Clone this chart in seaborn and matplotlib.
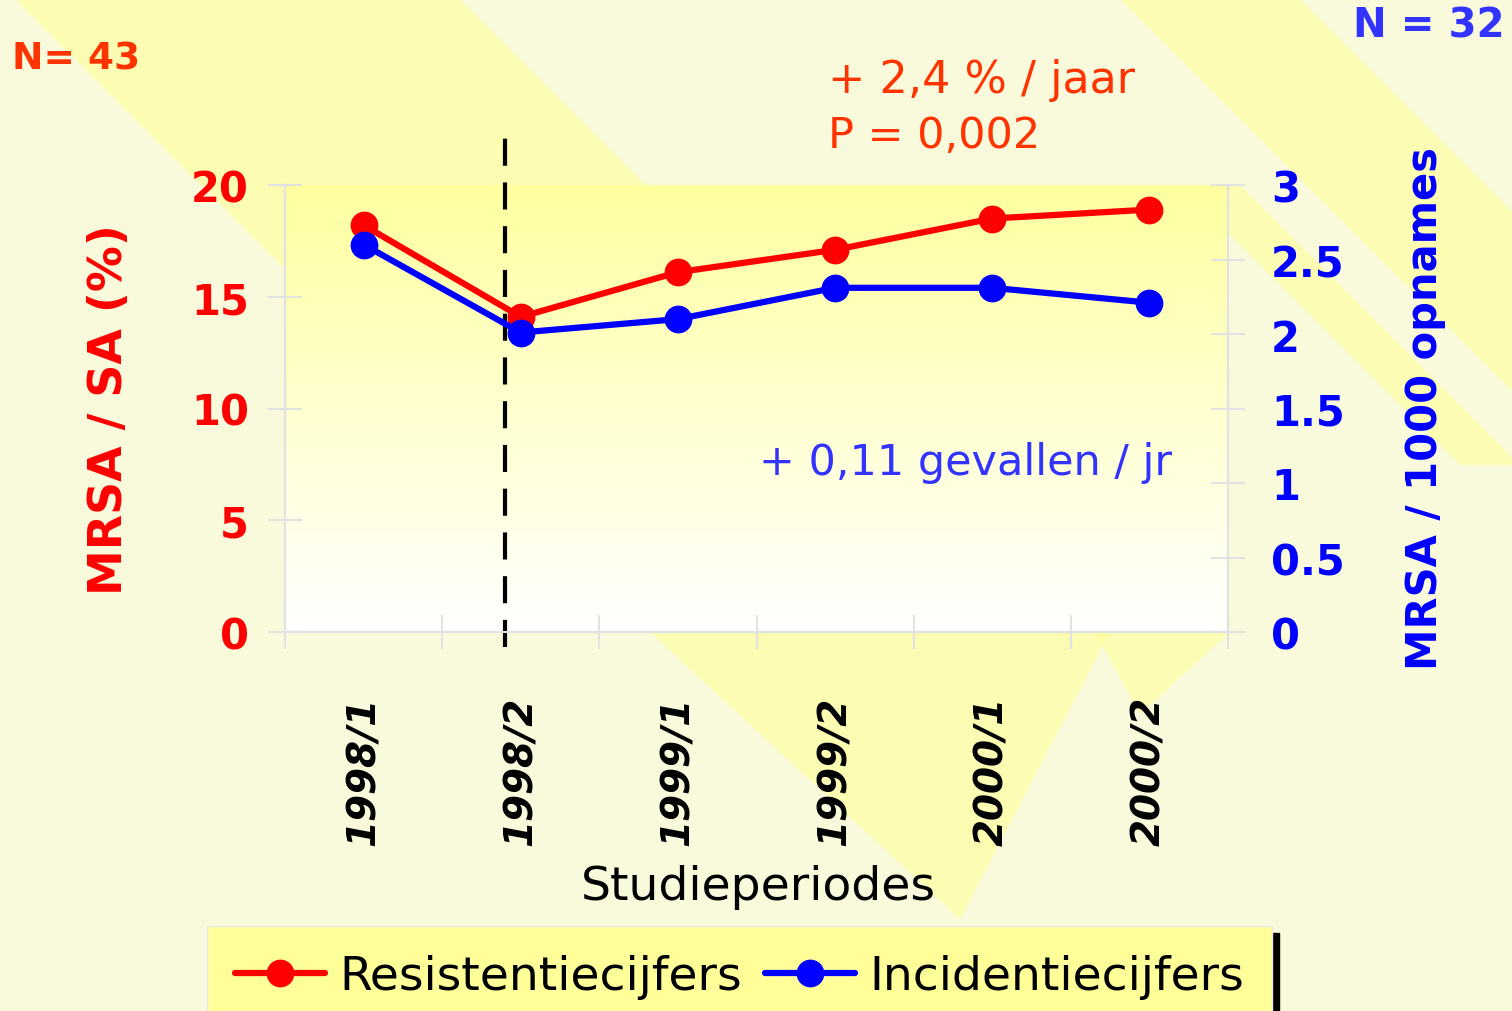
import numpy as np
import pandas as pd
import matplotlib
matplotlib.use("Agg")
import matplotlib.pyplot as plt
from matplotlib.patches import Polygon
from matplotlib.ticker import FixedLocator, NullFormatter
import seaborn as sns

# data
periods = ["1998/1", "1998/2", "1999/1", "1999/2", "2000/1", "2000/2"]
resistance = [18.2, 14.1, 16.1, 17.1, 18.5, 18.9]      # MRSA / SA (%)
incidence = [2.60, 2.01, 2.10, 2.31, 2.31, 2.21]       # MRSA / 1000 opnames
left_ticks = [0, 5, 10, 15, 20]
right_ticks = [0, 0.5, 1, 1.5, 2, 2.5, 3]
right_tick_labels = ["0", "0.5", "1", "1.5", "2", "2.5", "3"]

sns.set_theme(style="white")
plt.rcParams["font.family"] = ["DejaVu Sans"]

RED = "#FF0000"
BLUE = "#0000FF"
ORANGE = "#FF3300"
LBLUE = "#3333FF"
GRID = "#E2E2E2"

W, H = 1512, 1012
fig = plt.figure(figsize=(W / 100, H / 100), dpi=100)
fig.patch.set_facecolor("#F9F9DC")


def fx(px):
    return px / W


def fy(py):
    return 1 - py / H


# background decoration: pale yellow diagonal bands
bg = fig.add_axes([0, 0, 1, 1], zorder=-10)
bg.set_xlim(0, W)
bg.set_ylim(H, 0)
bg.axis("off")
bands = [
    [(15, 0), (460, 0), (1093, 633), (648, 633)],
    [(1120, 0), (1300, 0), (1700, 400), (1520, 400)],
    [(1180, 186), (1240, 186), (1520, 466), (1460, 466)],
    [(650, 633), (1110, 633), (960, 920)],
    [(1095, 633), (1230, 633), (1140, 715)],
]
for b in bands:
    bg.add_patch(Polygon(b, closed=True, facecolor="#FFFF99", edgecolor="none", alpha=0.6))

df = pd.DataFrame({
    "pos": range(len(periods)),
    "period": periods,
    "resistance": resistance,
    "incidence": incidence,
})

ax = fig.add_axes([fx(285), fy(633), fx(1228 - 285), (633 - 186) / H])
ax.set_facecolor("none")

# gradient inside the plot area
grad = np.linspace(0, 1, 256).reshape(-1, 1)
cmap = matplotlib.colors.LinearSegmentedColormap.from_list("yw", ["#FFFFFF", "#FFFFA0"])
ax.imshow(grad, extent=[-0.5, 5.5, 0, 20], origin="lower", aspect="auto",
          cmap=cmap, zorder=0)

sns.lineplot(data=df, x="pos", y="resistance", ax=ax, color=RED, marker="o",
             markersize=20, markeredgewidth=0, linewidth=4.5, zorder=3,
             label="Resistentiecijfers", legend=False)

ax2 = ax.twinx()
sns.lineplot(data=df, x="pos", y="incidence", ax=ax2, color=BLUE, marker="o",
             markersize=20, markeredgewidth=0, linewidth=4.5, zorder=3,
             label="Incidentiecijfers", legend=False)

ax.set_xlim(-0.5, 5.5)
ax.set_ylim(0, 20)
ax2.set_ylim(0, 3)

# dashed separator after the first period
ax2.axvline(0.9, ymin=-0.034, ymax=1.114, color="black", linewidth=3,
            linestyle=(0, (6.5, 4)), clip_on=False, zorder=2)

for a in (ax, ax2):
    for s in a.spines.values():
        s.set_color(GRID)
        s.set_linewidth(1.5)
    a.spines["top"].set_visible(False)
    a.set_xlabel("")
    a.set_ylabel("")

# x axis: ticks at the category boundaries, labels at the centres
ax.xaxis.set_major_locator(FixedLocator(np.arange(-0.5, 6, 1)))
ax.xaxis.set_major_formatter(NullFormatter())
ax.xaxis.set_minor_locator(FixedLocator(df["pos"].tolist()))
ax.set_xticklabels(periods, minor=True)
ax.tick_params(axis="x", which="major", direction="inout", length=24, width=1.5,
               color=GRID, bottom=True)
ax.tick_params(axis="x", which="minor", length=0, pad=46, bottom=True)
for t in ax.get_xticklabels(minor=True):
    t.set_rotation(90)
    t.set_fontsize(28)
    t.set_fontweight("bold")
    t.set_fontstyle("italic")
    t.set_color("black")
    t.set_va("top")
    t.set_ha("center")
ax2.tick_params(axis="x", which="both", length=0)

ax.set_yticks(left_ticks)
ax.set_yticklabels([str(v) for v in left_ticks])
ax.tick_params(axis="y", direction="inout", length=24, width=1.5, color=GRID,
               labelcolor=RED, labelsize=30, pad=14, left=True)
for t in ax.get_yticklabels():
    t.set_fontweight("bold")

ax2.set_yticks(right_ticks)
ax2.set_yticklabels(right_tick_labels)
ax2.tick_params(axis="y", direction="inout", length=24, width=1.5, color=GRID,
                labelcolor=BLUE, labelsize=30, pad=19, right=True)
for t in ax2.get_yticklabels():
    t.set_fontweight("bold")
    t.set_ha("left")

# axis titles
fig.text(fx(110), fy(410), "MRSA / SA (%)", rotation=90, color=RED, fontsize=33,
         fontweight="bold", ha="center", va="center")
fig.text(fx(1425), fy(408), "MRSA / 1000 opnames", rotation=90, color=BLUE,
         fontsize=30, fontweight="bold", ha="center", va="center")
fig.text(fx(758), fy(888), "Studieperiodes", color="black", fontsize=34,
         ha="center", va="center")

# annotations
fig.text(fx(828), fy(80), "+ 2,4 % / jaar", color=ORANGE, fontsize=32,
         ha="left", va="center")
fig.text(fx(828), fy(136), "P = 0,002", color=ORANGE, fontsize=31,
         ha="left", va="center")
fig.text(fx(1172), fy(463), "+ 0,11 gevallen / jr", color=LBLUE, fontsize=31,
         ha="right", va="center")
fig.text(fx(12), fy(60), "N= 43", color=ORANGE, fontsize=27, fontweight="bold",
         ha="left", va="center")
fig.text(fx(1505), fy(27), "N = 32", color=LBLUE, fontsize=29, fontweight="bold",
         ha="right", va="center")

# legend
h1, l1 = ax.get_legend_handles_labels()
h2, l2 = ax2.get_legend_handles_labels()
leg = fig.legend(h1 + h2, l1 + l2, loc="upper left",
                 bbox_to_anchor=(fx(207), fy(927)), ncol=2, fontsize=34,
                 labelcolor="black", borderaxespad=0,
                 frameon=True, fancybox=False, facecolor="#FFFF99",
                 edgecolor="#E8E8E8", framealpha=1, handlelength=1.9,
                 handletextpad=0.3, columnspacing=0.5, borderpad=0.6,
                 shadow={"ox": 5, "oy": -5, "color": "black", "alpha": 1})

fig.savefig("out.png", dpi=100, facecolor=fig.get_facecolor())
